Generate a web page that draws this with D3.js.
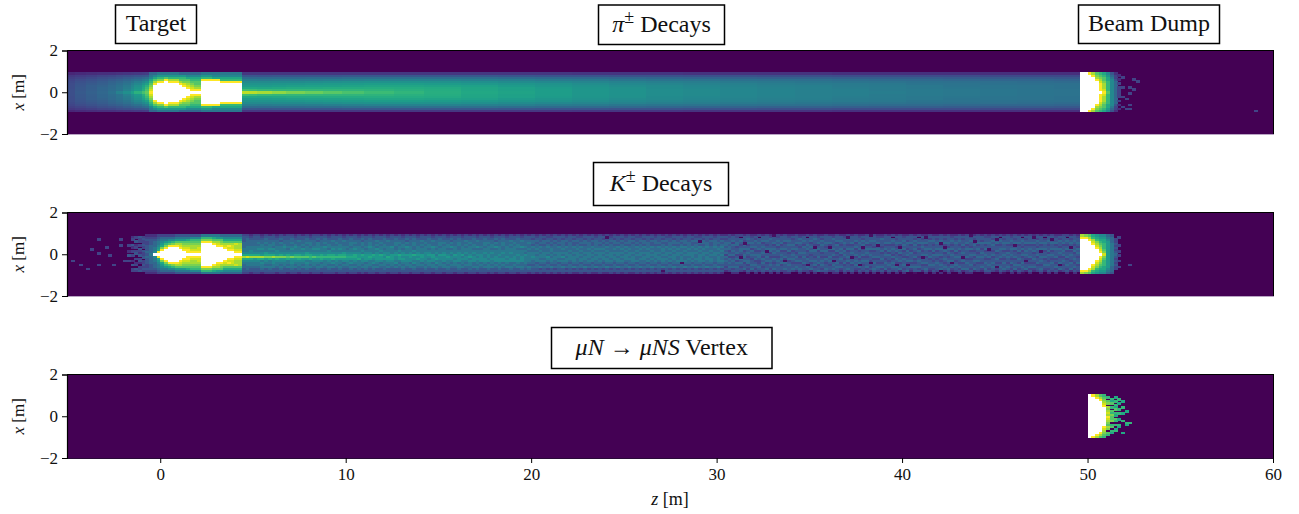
<!DOCTYPE html>
<html><head><meta charset="utf-8">
<script src="https://cdnjs.cloudflare.com/ajax/libs/d3/7.8.5/d3.min.js"></script>
<style>
html,body{margin:0;padding:0;background:#fff}
svg text{font-family:"Liberation Serif",serif;fill:#111}
</style></head><body>
<svg id="c" width="1299" height="514"></svg>
<script>
// Read-off heat-map levels on a 0..15 scale; w = above scale (white).
// Column: [number of 0.2 m bins, profile]. 10/11 entries = centre to edge, mirrored; 20/22 chars = top to bottom.
const zTicks=[0,10,20,30,40,50,60];
const xTicks=[-2,0,2];
const levelNames="0123456789abcdef";

const pionEntry=[
[2,[3.6,3.6,3.5,3.5,3.4,3.3,3.1,2.8,2.4,1.6]],[3,[4.2,4.1,4.1,4,3.9,3.7,3.4,3,2.6,1.8]],[3,[4.6,4.5,4.4,4.4,4.2,4,3.7,3.3,2.8,1.9]],
[3,[5,4.9,4.9,4.7,4.5,4.3,4,3.6,3,2]],[2,[5.6,5.3,5.2,5.1,4.9,4.7,4.3,3.8,3.2,2.1]],[2,[6.6,5.8,5.7,5.6,5.3,5,4.6,4,3.4,2.2]],
[2,[7.4,6.6,6.3,6.1,5.8,5.4,4.9,4.3,3.6,2.3]],[1,[8.4,7.4,7.1,6.8,6.4,5.9,5.3,4.5,3.7,2.4]],[2,[9.6,8.2,7.9,7.5,7,6.4,5.6,4.8,3.9,2.5]],
[1,[10.6,9.4,9,8.5,7.8,7,6.1,5.1,4,2.6]],[1,[11.4,10.8,10.2,9.6,8.6,7.6,6.5,5.4,4.2,2.7]]];
const pionTarget=[
[1,"fedcba9765"],[1,"wwwwfdb975"],[1,"wwwwwfca86"],[1,"wwwwwfca86"],[1,"wwwwwwfb86"],[3,"wwwwwfda86"],
[1,"wwwwfdba85"],[1,"wwwfecba85"],[1,"wwfedcb975"],[1,"wfedcba975"],[2,"wfdcbba975"],
[3,"wwwwwwfa86"],[2,"wwwwwwf976"],[6,"wwwwwfa976"]];
const pionBand=[
[2,[13.5,10.4,9,8.2,7.7,7.1,6.3,5.3,4,2.4]],[2,[13.4,10.2,9,8.2,7.7,7.1,6.3,5.2,4,2.4]],[4,[13,10,8.9,8.2,7.7,7.1,6.2,5.2,3.9,2.4]],[4,[12.5,9.9,9,8.3,7.8,7.2,6.3,5.2,4,2.4]],
[5,[12,9.9,9.1,8.4,7.9,7.2,6.3,5.2,4,2.4]],[5,[11.6,9.9,9.1,8.5,8,7.3,6.3,5.3,4,2.4]],[5,[11.1,9.8,9.2,8.6,8.1,7.4,6.4,5.3,4,2.4]],[6,[10.7,9.8,9.2,8.7,8.2,7.5,6.5,5.4,4.1,2.4]],
[8,[10.2,9.7,9.3,8.8,8.3,7.6,6.6,5.4,4.1,2.4]],[8,[9.8,9.5,9.2,8.8,8.3,7.6,6.6,5.5,4.1,2.4]],[10,[9.4,9.3,9.1,8.7,8.2,7.5,6.6,5.4,4.1,2.4]],[10,[9,8.9,8.8,8.5,8,7.4,6.5,5.4,4.1,2.4]],
[10,[8.7,8.6,8.5,8.2,7.8,7.2,6.4,5.3,4,2.4]],[10,[8.3,8.3,8.2,7.9,7.6,7,6.2,5.2,3.9,2.4]],[10,[7.9,7.9,7.8,7.6,7.3,6.8,6.1,5.1,3.9,2.3]],[10,[7.6,7.6,7.5,7.3,7,6.6,5.9,5,3.8,2.3]],
[10,[7.3,7.3,7.2,7.1,6.8,6.4,5.8,4.9,3.8,2.3]],[10,[7.1,7.1,7,6.9,6.6,6.3,5.7,4.8,3.7,2.2]],[10,[6.9,6.9,6.8,6.7,6.5,6.1,5.6,4.7,3.7,2.2]],[10,[6.7,6.7,6.6,6.5,6.3,6,5.5,4.6,3.6,2.2]],
[10,[6.5,6.5,6.5,6.4,6.2,5.9,5.4,4.6,3.6,2.2]],[10,[6.4,6.4,6.3,6.2,6.1,5.8,5.3,4.5,3.5,2.1]],[10,[6.3,6.2,6.2,6.1,6,5.7,5.2,4.4,3.5,2.1]],[10,[6.1,6.1,6,6,5.8,5.6,5.1,4.4,3.4,2.1]],
[10,[6,6,5.9,5.8,5.7,5.5,5,4.3,3.4,2.1]],[10,[5.9,5.9,5.8,5.8,5.6,5.4,4.9,4.2,3.3,2]],[10,[5.8,5.8,5.7,5.7,5.5,5.3,4.9,4.2,3.3,2]],[10,[5.7,5.7,5.6,5.6,5.5,5.2,4.8,4.1,3.3,2]]];
const pionDump=[
[2,"wwwwwwwwww"],[1,"wwwwwwwwwf"],[1,"wwwwwwwwfd"],[1,"wwwwwwfdcb"],[1,"wffffedcba"],[1,"fedddcbba9"],[1,"baaaaa9987"],
[1,"7777777654"],[1,"5555554332"],[1,"3330302020"],[1,"0030000300"]];
const pionScatter=[[52.4,.66],[52.6,.5],[52.2,.26],[52.5,.15],[52.2,-.05],[52,-.37],[52.2,-.66],[52,-.8],[52.2,-.8],[59.1,-.9]];

const kaonTarget=[
[1,"4544433432"],[1,"6555544432"],[1,"w766555432"],[1,"wf98766543"],[1,"wwfc987653"],[1,"wwwfca8653"],[1,"wwwwfb9753"],
[1,"wwwwfca753"],[1,"wwwwfdb864"],[1,"wwwfedb864"],[1,"wwfedcb864"],[1,"wffedcb964"],[2,"wfeddcba74"],[1,"wfeedcba74"],
[3,"wwwwwwfca6"],[1,"wwwwwfdb96"],[1,"wwwwfedb86"],[1,"wwwwfdcb85"],[1,"wwwfedb975"],[1,"wwfefdb975"],[1,"wwfeedb975"],[1,"wfeddeb975"],[1,"wfedddb975"]];
const kaonFringe=[
"00000300204003000000","02300420303002040300","03040230340030230430","04330304324034203340","03433430433403343430"];
const kaonBand=(
"34445556679d97655443 34555566679e97665543 23455566779d97665442 34455566679d87665443 34456567679d97665443 23455667678d96766542 "+
"34556566689c87656443 24455667679c96656543 34456657679d87766443 23455566778c97665442 34546566679c87656543 24455676678c87665443 "+
"34455565679b96656442 34556567678c87766543 23455676679b87656443 34465566679b97665542 24455657678b87656443 34556566689b86766543 "+
"23456656679a96656442 34455567678b87665443 34546667678a87656543 24455566679a97566442 34556576678a86665443 23455665779a87656543 "+
"34465567679a96756443 24456566678a87665442 34555667679a86656543 23465566689a87565443 "+
"34455565678987665442 24556656678986756543 34456567679987656443 23455566678896665542 34546656769877656443 24455565678887566542 "+
"34556676678986665443 23455566669876756543 34465657678887656442 24456566769887565443 34555665678786665543 23465566677987656442 "+
"34455576668887665443 24556655678776756443 34456566769886565442 23455665678787656543 34546576668777665443 24455566678877566442 "+
"34556655769776756543 23455566678786665443 34465656668877565442 24456566677776656543 34555665678767665443 23465576668877566442 "+
"34455565676786756543 24556656668776665443 34456566678777566442 23455665667876656543 34546575676776565443 24455566668767665442 "+
"34556655677777566543 23455566668676656443 34465656676776565442 24456566667867665543 34555665676777556443 23465575667676656542 "+
"34455565667777565443 24556656676677656443 34456566667767566542 23455665676676656443 34546575666777565442 24455566667677656543 "+
"34556655676677565443 23455566666767656442 34465656676677556543 24456566666777565443 34555665667667656442 23465575666777556543 "+
"34455565657666655443 24456556566666546542 34355465566765545443 23454556565666455442 34445465656656546343 24355455566656545442 "+
"33454565565765455343 23445456656566546442 34354555565665545343 24445465566656455442 34355556565756546443 23454465566566545342 "+
"34445555656665455443 24354465565666546342 33454556566655545442 23445465656566455343 34355455565665546442 24445556566656545343 "+
"34354465656566455442 23455556565665546342 34445456566656545443 24354556565665455342 33445465656566546442 23454555566656545343 "+
"34355456565665455442 24445465566566546343 34354556565656545442 23445465656665455343 34455456566565546442 24354555565666545342 "+
"33445465656556455443 23454556566565546342 34355465565665545443 24445556566656455342 34354465656565546443 23455455566656545342 "+
"34445465565665455443 24354556656566546342 33454465566565545443 23445556565656455342 34355465656665546443 24445456566556545342 "+
"34354565565666455443 23455465656556546342 34445556566565545443 24354465566656455342 33454556565565546443 23445465656666545342 "+
"34355456566556455443 24445565565665546342 34354455656566545443 23455565566555455342 34445456565666546443 24354565656556545342 "+
"24345545453545443420 33445455345354545430 24453544545345445342 33445534453453545442 30454345543454543430 24434545345545344520 "+
"34545345454345534342 23445453545434454530 24354454345453454342 30445445345543345430 24453454454354543442 34454345344545344530 "+
"23544445534345454342 24445345454354344530 33454534544345454442 24445345345454534430 34453445344534544532 23454544534453454442 "+
"24344545345454344530 34445345434545345420 23545434454345344542 24454354454544534430 30444545344354445432 24453454543445344520 "+
"34544345544345453442 23445345344544534450 24354544534345454342 34445434544354344542 24445345344545434430 23544445345345454532 "+
"34453544534344545442 24454345453454345320 23445443545434534442 30544345344545344530 24445345454344534442 34453453445345454320 "+
"23445445344534545342 24354543445345434430 34445345454345445342 24454345345443543420 34454435344534544542 23445345444534345430 "+
"23544434534454345342 34445345345434544520 24445344535443454342 30454345443534545430 24345434534454345442 34445345453445344520 "+
"23454545344354454342 24435443545345344450 34445344354445345320 24354545434534345442 30445343544345445340 24345454345344534420 "+
"23445345445344534542 34354445344534454320 24454344535443454342 24345445345434544430 34454345445343454502 24345344534454345420 "+
"34445435454345434542 23454345345445345320 24345444534543454430 34454345344544345342 24344534454345344520 "+
"34445345444534544532 23454435345434454342 24354544345345434520 34445345434545344430 24435443454544345320 33445345345434544542 "+
"23445445344534454342 34354544345344545430 24445344534454345320 30454345444534345442 24345445345434544530 34445344354544345420 "+
"23454345445434534342 34345445344534454520 24445344534454354342 30454435345344545430 24345344545434344520 34445345444534345342 "+
"23445344534454345320 34354435445344534430 24445345344545434542 30345445344534454320 24454344535443454342 34345445345434544430 "+
"23445345444534345342 24354435454344534520 34445344545345434430 30454345344534454342 24345445345443544520 34454344534454345342 "+
"23445435454344534430 24354345445345434520 34445344534454345342 30354545434534454430"
).split(" ");
const kaonHoles=[[31.5,.52],[32.8,.13],[33.8,-.35],[31.4,-.11],[35.2,.37],[36.1,.29],[36.3,-.35],[37,.76],[37.9,.37],[38.3,-.43],[37.4,-.19],[38.8,.44],[39.9,.29],[41,-.19],[42.1,.52],[42.4,.37],[42.8,-.43],[43.3,-.11],[43.9,.6],[40.3,-.51],[41.2,.76],[39.6,-.51],[37.6,-.51],[34.9,-.51],
[46,.4],[45,-.6],[47.5,.1],[46.6,-.3],[48,.7],[48.5,-.5],[44.6,.2],[47,.8],[45.5,-.9],[49,.3],[45,.75],[24,.85],[27,-.85],[29,.6],[28,-.4],[33,.9],[35.6,-.9],[38.2,.88],[40.8,-.88],[43.6,.9],[46.4,-.9]];
const kaonDump=[
[1,"wwwwwwwwfd"],[1,"wwwwwwwwfc"],[1,"wwwwwwwfdb"],[1,"wwwwwfeda9"],[1,"wwwfedca98"],[1,"wfedcba987"],[1,"ecbaaa9987"],
[1,"8888888765"],[1,"6666665554"],[1,"5434343300"]];
const kaonScatter=[[-3.4,.7],[-2.1,.67],[-3.6,.19],[-2.9,.35],[-3.3,.05],[-2.6,-.08],[-4.2,-.48],[-4.7,-.32],[-3.9,-.71],[-3.4,-.48],[-2.5,-.48],[-1.6,-.84],[-2.1,.46],[-2,-.37],
[51.6,.78],[51.7,.4],[51.6,.1],[51.8,-.01],[51.6,-.29],[51.8,-.6],[52.2,-.48]];

const muonColumns=[
[1,"wwwwwwwwwww"],[1,"wwwwwwwwwwf"],[1,"wwwwwwwwwfd"],[1,"wwwwwwwwfdb"],[1,"wwwwwfedcba"],
[1,"0a0bc0dcdedfedcbdc0ba0"],[1,"00a9b0a0bacbbc0ab0a900"],[1,"090a0a9b0a90ba0a09a000"],[1,"00a0900a0a00900a900000"],[1,"000900a009000a00000900"],[1,"00000000900000a9000000"],[1,"00000000000000a0000000"]];

const panels=[
 {top:50.5,rowH:.095,layers:[{start:-5,cols:pionEntry},{start:-.6,cols:pionTarget},{start:4.4,cols:pionBand},{start:49.6,cols:pionDump}],scatter:pionScatter,holes:[]},
 {top:212.5,rowH:.095,layers:[{start:-1.8,cols:kaonFringe.map(s=>[1,s])},{start:-.8,cols:kaonTarget},{start:4.4,cols:kaonBand.map(s=>[1,s])},{start:49.6,cols:kaonDump}],scatter:kaonScatter,holes:kaonHoles},
 {top:374.5,rowH:.095,layers:[{start:50,cols:muonColumns}],scatter:[],holes:[]}
];
const panelH=83.5, binZ=.2;
const titles=[
 {x0:115,x1:196,y0:4.5,y1:43,parts:[["Target",""]]},
 {x0:598,x1:724,y0:4.5,y1:44,parts:[["π","i"],["±","s"],[" Decays",""]]},
 {x0:1078,x1:1219,y0:4.5,y1:43,parts:[["Beam Dump",""]]},
 {x0:593,x1:728,y0:162,y1:205,parts:[["K","i"],["±","s"],[" Decays",""]]},
 {x0:551,x1:771.5,y0:327,y1:368,parts:[["μN","i"],[" → ",""],["μNS","i"],[" Vertex",""]]}
];

const svg=d3.select("#c");
const zScale=d3.scaleLinear().domain([-5,60]).range([67.5,1273]);
const color=d3.scaleSequential(d3.interpolateViridis).domain([0,15]);
const fmt=d=>String(d).replace("-","−");
const levelOf=ch=>typeof ch==="number"?ch:(ch==="w"?Infinity:levelNames.indexOf(ch));

panels.forEach((p,pi)=>{
  const y=d3.scaleLinear().domain([2,-2]).range([p.top,p.top+panelH]);
  const g=svg.append("g");
  g.append("rect").attr("x",zScale(-5)).attr("y",p.top).attr("width",zScale(60)-zScale(-5)).attr("height",panelH).attr("fill",color(0));
  const cells=[];
  p.layers.forEach(l=>{
    let z=l.start;
    l.cols.forEach(([n,s])=>{
      for(let k=0;k<n;k++){
        const half=s.length<=11, m=half?s.length:s.length/2;
        for(let i=0;i<s.length;i++){
          const v=levelOf(s[i]); if(v===0)continue;
          if(half){
            cells.push({z,x0:i*p.rowH,x1:(i+1)*p.rowH,v});
            cells.push({z,x0:-(i+1)*p.rowH,x1:-i*p.rowH,v});
          }else{
            cells.push({z,x0:(m-i-1)*p.rowH,x1:(m-i)*p.rowH,v});
          }
        }
        z+=binZ;
      }
    });
  });
  const single=(pts,v)=>pts.forEach(([z,x])=>{
    const r=Math.floor(x/p.rowH);
    cells.push({z:-5+Math.floor((z+5)/binZ)*binZ,x0:r*p.rowH,x1:(r+1)*p.rowH,v});
  });
  single(p.scatter,3);
  single(p.holes,.6);
  g.append("g").attr("shape-rendering","crispEdges").selectAll("rect").data(cells).join("rect")
   .attr("x",d=>zScale(d.z)).attr("width",d=>zScale(d.z+binZ)-zScale(d.z)+.3)
   .attr("y",d=>y(d.x1)).attr("height",d=>y(d.x0)-y(d.x1)+.3)
   .attr("fill",d=>d.v===Infinity?"#ffffff":color(d.v));
  const f=g.append("g").attr("fill","none").attr("shape-rendering","crispEdges");
  f.append("line").attr("x1",67).attr("x2",1273.5).attr("y1",p.top).attr("y2",p.top).attr("stroke","#000").attr("stroke-width",1.2);
  f.append("line").attr("x1",1273).attr("x2",1273).attr("y1",p.top).attr("y2",p.top+panelH).attr("stroke","#000");
  f.append("line").attr("x1",67).attr("x2",1273.5).attr("y1",p.top+panelH).attr("y2",p.top+panelH).attr("stroke",pi===2?"#2a0a38":"#b9a5c4");
  const ax=g.append("g").attr("transform","translate(67,0)")
    .call(d3.axisLeft(y).tickValues(xTicks).tickSize(5).tickPadding(4).tickFormat(fmt));
  ax.select(".domain").attr("stroke","#000").attr("stroke-width",1.2);
  ax.selectAll("text").style("font-size","17px");
  const yl=svg.append("text").attr("transform",`translate(24,${p.top+panelH/2}) rotate(-90)`).attr("text-anchor","middle").style("font-size","17px");
  yl.append("tspan").attr("font-style","italic").text("x");
  yl.append("tspan").text(" [m]");
});

const bottom=panels[2].top+panelH;
const xa=svg.append("g").attr("transform",`translate(0,${bottom})`)
  .call(d3.axisBottom(zScale).tickValues(zTicks).tickSize(5).tickPadding(5).tickFormat(fmt));
xa.select(".domain").remove();
xa.selectAll("text").style("font-size","17px");
const xl=svg.append("text").attr("x",670).attr("y",505).attr("text-anchor","middle").style("font-size","18px");
xl.append("tspan").attr("font-style","italic").text("z");
xl.append("tspan").text(" [m]");

titles.forEach(t=>{
  svg.append("rect").attr("x",t.x0+.5).attr("y",t.y0+.5).attr("width",t.x1-t.x0).attr("height",t.y1-t.y0)
    .attr("fill","#fff").attr("stroke","#000").attr("stroke-width",1.5);
  const tx=svg.append("text").attr("x",(t.x0+t.x1)/2+.5).attr("y",(t.y0+t.y1)/2+7.5).attr("text-anchor","middle").style("font-size","24px");
  t.parts.forEach(([s,k])=>{
    const ts=tx.append("tspan").text(s);
    if(k==="i")ts.attr("font-style","italic");
    if(k==="s")ts.attr("dy",-9).style("font-size","18px");
  });
  tx.selectAll("tspan").filter(function(){return this.previousSibling&&this.previousSibling.textContent==="±"}).attr("dy",9);
});
</script>
</body></html>
